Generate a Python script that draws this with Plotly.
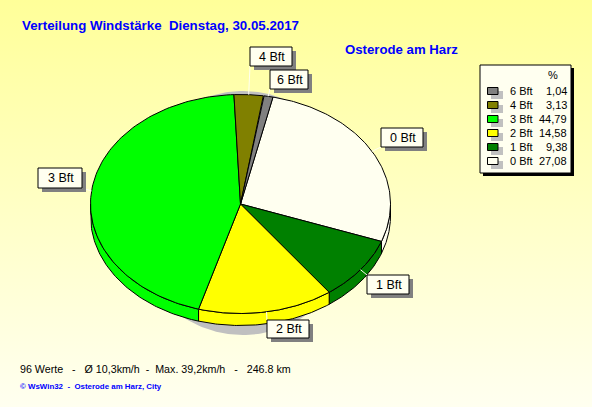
import numpy as np
import plotly.graph_objects as go

# ---- data (clockwise from the start angle) ----
categories = ["0 Bft", "1 Bft", "2 Bft", "3 Bft", "4 Bft", "6 Bft"]
percent = [27.08, 9.38, 14.58, 44.79, 3.13, 1.04]
percent_text = ["27,08", "9,38", "14,58", "44,79", "3,13", "1,04"]
colors = ["#FFFFF0", "#008000", "#FFFF00", "#00FF00", "#808000", "#808080"]

title = "Verteilung Windstärke  Dienstag, 30.05.2017"
station = "Osterode am Harz"
footer = "96 Werte   -   Ø 10,3km/h  -  Max. 39,2km/h   -   246.8 km"
credit = "© WsWin32  -  Osterode am Harz, City"

# ---- layout constants (pixels) ----
W, H = 592, 407
CX, CY, RX, RY, DEPTH = 240.5, 204.0, 150.0, 109.5, 12.0
START = 12.5
SANS = "Liberation Sans, Arial, sans-serif"
label_boxes = {  # x0, y0, x1, y1
    "0 Bft": (381, 128, 423, 147),
    "1 Bft": (367, 275, 409, 294),
    "2 Bft": (267, 320, 309, 338),
    "3 Bft": (38, 168, 82, 188),
    "4 Bft": (250, 47, 292, 66),
    "6 Bft": (270, 70, 308, 89),
}


def ell(theta_deg, dy=0.0):
    t = np.radians(theta_deg)
    return CX + RX * np.sin(t), CY - RY * np.cos(t) + dy


fig = go.Figure()

# page background
fig.add_trace(go.Scatter(
    x=[0, W, W, 0, 0], y=[0, 0, H, H, 0], mode="lines", line=dict(width=0),
    fill="toself", hoverinfo="skip",
    fillgradient=dict(type="vertical", start=0, stop=H,
                      colorscale=[[0, "#FFFF99"], [1, "#FFFFF0"]]),
))

# pie shadow
th = np.linspace(0, 360, 241)
fig.add_trace(go.Scatter(
    x=243 + 115 * np.sin(np.radians(th)), y=213 - 122 * np.cos(np.radians(th)),
    mode="lines", line=dict(width=0), fill="toself", fillcolor="#C0C0C0", hoverinfo="skip",
))

bounds = START + np.concatenate([[0], np.cumsum(percent)]) * 360.0 / sum(percent)

# side wall (only the front half, 90..270 degrees, is visible)
for i, c in enumerate(colors):
    a, b = max(bounds[i], 90), min(bounds[i + 1], 270)
    if a >= b:
        continue
    t = np.linspace(a, b, 80)
    x1, y1 = ell(t)
    x2, y2 = ell(t[::-1], DEPTH)
    fig.add_trace(go.Scatter(
        x=np.r_[x1, x2, x1[0]], y=np.r_[y1, y2, y1[0]], mode="lines",
        line=dict(color="black", width=1), fill="toself", fillcolor=c, hoverinfo="skip",
    ))

# top faces
for i, c in enumerate(colors):
    t = np.linspace(bounds[i], bounds[i + 1], 120)
    x, y = ell(t)
    fig.add_trace(go.Scatter(
        x=np.r_[CX, x, CX], y=np.r_[CY, y, CY], mode="lines",
        line=dict(color="black", width=1), fill="toself", fillcolor=c, hoverinfo="skip",
    ))

shapes, annotations = [], []


def text(x, y, s, size=11, color="black", bold=False, anchor="left"):
    annotations.append(dict(
        x=x, y=y, xref="x", yref="y", text=f"<b>{s}</b>" if bold else s, showarrow=False,
        xanchor=anchor, yanchor="middle", borderpad=0, borderwidth=0,
        font=dict(family=SANS, size=size, color=color),
    ))


def rect(x0, y0, x1, y1, fill, line=None):
    shapes.append(dict(type="rect", xref="x", yref="y", x0=x0, y0=y0, x1=x1, y1=y1,
                       fillcolor=fill, line=dict(color=line or fill, width=1 if line else 0)))


# slice labels with leader lines
for i, name in enumerate(categories):
    x0, y0, x1, y1 = label_boxes[name]
    ex, ey = ell((bounds[i] + bounds[i + 1]) / 2)
    tx = min(max(ex, x0), x1)
    ty = min(max(ey, y0), y1)
    shapes.append(dict(type="line", xref="x", yref="y", x0=ex, y0=ey, x1=tx, y1=ty,
                       line=dict(color="#FFFFF0", width=1)))
    rect(x0 + 4, y0 + 4, x1 + 4, y1 + 4, "#808080")
    rect(x0, y0, x1, y1, "#FFFFF0", "black")
    text((x0 + x1) / 2 + 1, (y0 + y1) / 2, name, size=12.5, anchor="center")

# legend
rect(483, 68, 574, 176, "black")
rect(480, 65, 571, 173, "#FFFFF0", "black")
text(553, 74.5, "%", size=11, anchor="center")
for row, i in enumerate(range(len(categories) - 1, -1, -1)):
    yc = 91 + row * 14
    rect(491, yc + 0, 503, yc + 8, "#C0C0C0")
    rect(487.5, yc - 3.5, 498, yc + 3.5, colors[i], "black")
    text(510, yc, categories[i], size=11)
    text(566.5, yc, percent_text[i], size=11, anchor="right")

# titles
text(22, 25, title, size=13.3, color="#0000FF", bold=True)
text(345, 49, station, size=13.2, color="#0000FF", bold=True)
text(20, 369, footer, size=10.7)
text(20, 386, credit, size=7.9, color="#0000FF", bold=True)

fig.update_layout(
    width=W, height=H, margin=dict(l=0, r=0, t=0, b=0), showlegend=False,
    paper_bgcolor="#FFFFF0", plot_bgcolor="rgba(0,0,0,0)",
    xaxis=dict(range=[0, W], visible=False, domain=[0, 1], fixedrange=True),
    yaxis=dict(range=[H, 0], visible=False, domain=[0, 1], fixedrange=True),
    shapes=shapes, annotations=annotations,
)
fig.write_html(
    "out.html", config=dict(displayModeBar=False),
    post_script="document.body.style.margin='0';document.body.style.overflow='hidden';",
)
